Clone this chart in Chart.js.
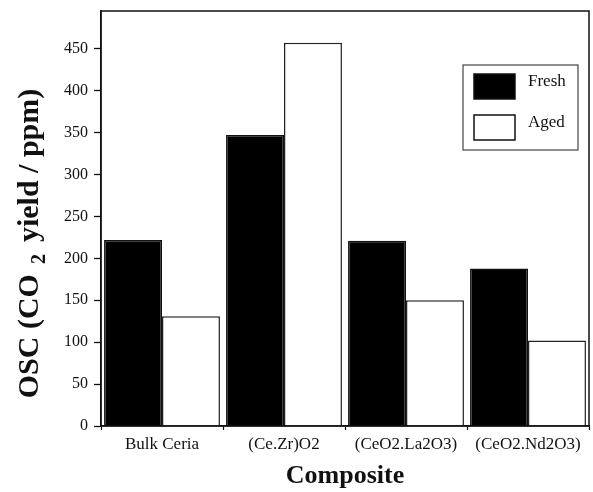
<!DOCTYPE html>
<html>
<head>
<meta charset="utf-8">
<script src="https://cdn.jsdelivr.net/npm/chart.js@4/dist/chart.umd.min.js"></script>
<style>
  html, body { margin: 0; padding: 0; background: #fff; }
  #wrap { width: 593px; height: 492px; }
</style>
</head>
<body>
<div id="wrap"><canvas id="osc"></canvas></div>
<script>
// OSC yield per composite, fresh vs aged
const composites = ['Bulk Ceria', '(Ce.Zr)O2', '(CeO2.La2O3)', '(CeO2.Nd2O3)'];
const freshOSC = [222, 347, 221, 188];
const agedOSC = [131, 457, 150, 102];
const yMax = 495;
const yStep = 25;      // minor ticks every 25, labels every 50

const serif = 'Liberation Serif';

// box around the whole plot area
const frame = {
  id: 'frame',
  afterDatasetsDraw(chart) {
    const { ctx, chartArea: a } = chart;
    ctx.save();
    ctx.strokeStyle = '#111';
    ctx.lineWidth = 1.5;
    ctx.strokeRect(a.left, a.top, a.right - a.left, a.bottom - a.top);
    ctx.restore();
  }
};

// vertical axis title with a lowered "2" in CO2
const yTitle = {
  id: 'yTitle',
  afterDraw(chart) {
    const { ctx, chartArea: a } = chart;
    const big = 'bold 30px "' + serif + '"';
    const small = 'bold 20px "' + serif + '"';
    const parts = [
      { t: 'OSC (CO', f: big, dy: 0, gap: 10 },
      { t: '2', f: small, dy: 7, gap: 12 },
      { t: 'yield / ppm)', f: big, dy: 0, gap: 0 }
    ];
    ctx.save();
    let total = 0;
    parts.forEach(p => { ctx.font = p.f; p.w = ctx.measureText(p.t).width; total += p.w + p.gap; });
    const cy = (a.top + a.bottom) / 2 + 25;
    ctx.translate(38, cy);
    ctx.rotate(-Math.PI / 2);
    ctx.fillStyle = '#111';
    ctx.textBaseline = 'alphabetic';
    let x = -total / 2;
    parts.forEach(p => {
      ctx.font = p.f;
      ctx.fillText(p.t, x, p.dy);
      x += p.w + p.gap;
    });
    ctx.restore();
  }
};

// boxed legend in the upper right corner of the plot
const boxLegend = {
  id: 'boxLegend',
  afterDraw(chart) {
    const { ctx, chartArea: a } = chart;
    const x = a.right - 126, y = a.top + 54, w = 115, h = 85;
    ctx.save();
    ctx.fillStyle = '#fff';
    ctx.fillRect(x, y, w, h);
    ctx.strokeStyle = '#444';
    ctx.lineWidth = 1.2;
    ctx.strokeRect(x, y, w, h);
    ctx.font = '17px "' + serif + '"';
    ctx.textBaseline = 'middle';
    chart.data.datasets.forEach((ds, i) => {
      const sy = y + 9 + i * 41;
      ctx.fillStyle = ds.backgroundColor;
      ctx.fillRect(x + 11, sy, 41, 25);
      ctx.strokeStyle = '#111';
      ctx.lineWidth = 1.5;
      ctx.strokeRect(x + 11, sy, 41, 25);
      ctx.fillStyle = '#111';
      ctx.fillText(ds.label, x + 65, sy + 8);
    });
    ctx.restore();
  }
};

new Chart(document.getElementById('osc'), {
  type: 'bar',
  data: {
    labels: composites,
    datasets: [
      {
        label: 'Fresh',
        data: freshOSC,
        backgroundColor: '#000',
        borderColor: '#111',
        borderWidth: 1.5,
        categoryPercentage: 0.95,
        barPercentage: 1.0
      },
      {
        label: 'Aged',
        data: agedOSC,
        backgroundColor: '#fff',
        borderColor: '#222',
        borderWidth: 1.5,
        categoryPercentage: 0.95,
        barPercentage: 1.0
      }
    ]
  },
  options: {
    responsive: true,
    maintainAspectRatio: false,
    animation: false,
    layout: { padding: { left: 0, right: 4, top: 11, bottom: 0 } },
    plugins: {
      legend: { display: false },
      tooltip: { enabled: false }
    },
    scales: {
      x: {
        grid: {
          offset: true,
          drawOnChartArea: false,
          tickLength: 4,
          tickColor: '#111',
          tickWidth: 1.2
        },
        border: { color: '#111', width: 1.5 },
        ticks: {
          color: '#111',
          padding: 4,
          maxRotation: 0,
          font: { family: serif, size: 17 }
        },
        title: {
          display: true,
          text: 'Composite',
          color: '#111',
          padding: { top: 0, bottom: 0 },
          font: { family: serif, size: 26, weight: 'bold' }
        },
        afterFit(scale) { scale.height = 66; }
      },
      y: {
        min: 0,
        max: yMax,
        grid: {
          drawOnChartArea: false,
          tickLength: 7,
          tickColor: '#111',
          tickWidth: ctx => (ctx.tick && ctx.tick.value % 50 === 0) ? 1.3 : 0.8
        },
        border: { color: '#111', width: 1.5 },
        ticks: {
          stepSize: yStep,
          color: '#111',
          padding: 6,
          font: { family: serif, size: 16 },
          callback: v => (v % 50 === 0 ? v : '')
        },
        afterFit(scale) {
          scale.width = 101;
          scale.paddingTop = 0;
          scale.paddingBottom = 0;
        }
      }
    }
  },
  plugins: [frame, yTitle, boxLegend]
});
</script>
</body>
</html>
